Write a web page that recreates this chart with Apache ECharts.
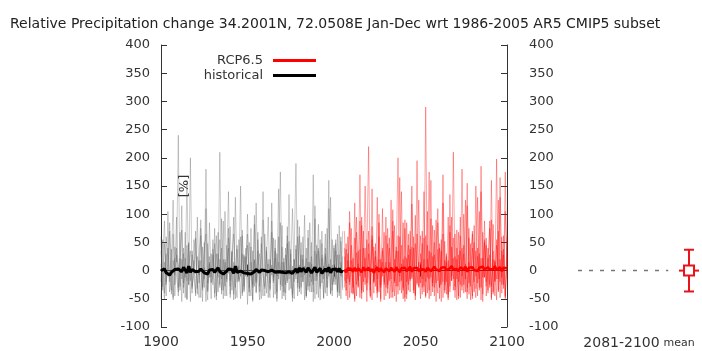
<!DOCTYPE html>
<html>
<head>
<meta charset="utf-8">
<script src="https://cdn.jsdelivr.net/npm/echarts@6/dist/echarts.min.js"></script>
<style>
  html, body { margin: 0; padding: 0; background: #fff; }
  #chart { width: 702px; height: 351px; }
</style>
</head>
<body>
<div id="chart"></div>
<script>
// historical runs, 1900-2005
const histStart = 1900
const hist1 = [12,-35,48,-20,5,70,-42,18,-8,95, -30,22,-55,40,-12,160,-25,8,-40,55, 30,-18,-48,75,2,-30,110,-22,15,-50, 38,-5,62,-38,20,-15,88,-45,10,140, -28,33,-52,5,45,-20,-8,72,-35,25, -60,50,12,-25,98,-40,8,30,-15,-45, 65,-10,20,-32,120,-18,40,-55,15,-5, 80,-38,28,-22,52,-12,-48,35,190,-30, 10,-42,60,-8,22,-35,85,-20,5,-50, 45,18,-28,70,-15,30,-45,12,130,-25, -5,48,-38,20,60,-30]
const hist2 = [-20,55,-40,30,-10,85,-5,-48,42,15, 240,-35,20,-22,68,-50,10,35,-28,-8, 58,-42,25,90,-30,5,-55,48,-12,30, -25,75,-45,12,55,-35,-10,105,-20,40, -48,20,65,-30,8,-15,150,-40,28,-5, 45,-38,15,-52,82,-18,35,-28,60,-10, -45,25,95,-35,10,-22,55,-50,30,175, -28,15,-40,62,-8,38,-55,20,-15,90, -32,50,-20,8,-45,72,-12,25,-38,115, -18,40,-52,28,-5,65,-30,12,-42,55, -20,35,-48,80,-10,25]
const hist3 = [35,-15,-50,60,22,-38,10,125,-25,40, -45,15,72,-30,5,-52,48,-18,28,-8, -40,95,-22,18,-55,40,65,-35,12,-20, 55,-48,30,-12,210,-42,20,-28,45,-5, 78,-35,15,-50,38,-18,60,-45,25,-10, 100,-30,42,-55,18,-22,68,-38,8,140, -28,35,-48,20,-8,58,-42,30,-15,85, -50,22,-25,48,-35,10,110,-20,38,-45, 62,-12,28,-52,40,-28,15,-38,170,-18, 30,-48,55,-22,8,-40,75,-10,20,-35, 45,-25,65,-45,15,-12]
const hist4 = [-50,20,88,-25,40,-12,-35,65,-45,28, 10,-28,115,-40,22,-18,50,-55,35,-5, 70,-32,18,-48,42,-15,180,-38,25,-22, -10,48,-52,30,-25,92,-35,15,-45,58, -18,35,-42,130,-20,8,-50,62,-28,40, -12,-45,75,-30,20,-38,55,-15,-50,90, 25,-40,12,-22,68,-48,35,-10,145,-35, 42,-25,-52,78,-15,30,-42,20,-8,60, -38,28,-20,98,-45,15,-28,50,-55,35, -10,82,-32,22,-48,40,-15,160,-40,10, -25,55,-35,28,-50,70]
const hist5 = [60,-28,15,-45,105,-20,38,-52,22,-10, -38,68,-15,30,-48,45,-25,200,-32,18, -45,25,-8,62,-35,50,-20,-52,85,-12, 28,-40,-18,68,-30,40,-50,20,-15,75, -42,12,95,-25,-48,55,-10,30,-38,18, 65,-20,-45,35,-28,120,-15,-52,48,-5, -32,42,-20,-48,88,-12,22,-38,60,-25, 15,-45,40,-18,135,-32,8,-50,45,-22, 78,-30,20,-15,-48,58,-38,12,-25,92, -42,35,-10,48,-50,25,-30,110,-20,-45, 40,-15,28,-40,52,-35]
const histMean = [0,-2,3,-4,-6,-8,-3,-5,2,4, 3,5,-2,6,1,-4,8,-3,2,-1, -2,-5,-1,3,1,-4,-3,-6,1,-2, 2,-3,-1,5,-2,-4,-6,-3,-1,3, 5,2,-5,8,-3,-6,-1,2,-4,-2, -5,-3,-6,-4,-2,2,-1,-3,1,3, 0,2,-2,-4,1,-1,-3,-5,-2,0, -3,-1,-4,-6,-2,-3,-5,-2,3,-4, 5,-2,4,7,-3,5,2,-4,-6,6, -3,-2,4,-5,-8,3,-2,6,-4,2, -1,3,-2,4,-3,0]

// RCP6.5 runs, 2006-2100
const rcpStart = 2006
const rcp1 = [25,-35,60,-20, 45,-40,15,95,-28,38,-50,70,-12,30, 220,-35,55,-20,10,-48,85,-25,40,-8, -45,75,-18,125,-38,20,-55,62,-10,45, -30,90,-42,28,-15,150,-35,48,-22,15, -50,70,-28,290,-40,35,-12,80,-45,25, 110,-30,55,-48,18,-20,95,-38,42,-15, 65,-52,28,-25,180,-40,12,-30,75,-18, -45,50,-10,130,-35,22,-55,88,-20,40, -30,160,-42,18,-15,70,-48,35,-25,105, 10]
const rcp2 = [-30,48,-15,85, -40,22,-55,68,-18,170,-35,40,-25,55, -12,-48,78,-22,35,-40,100,-30,15,-52, 62,-25,40,-15,88,-45,28,200,-35,12, -50,75,-20,45,-38,118,-10,-42,65,-28, 30,-15,140,-45,20,-35,92,-22,50,-55, 38,-30,-12,170,-40,25,-48,80,-18,58, -35,20,-50,95,-28,45,-15,155,-42,30, 65,-22,-48,40,-30,185,-12,50,-45,22, -25,90,-38,15,-52,125,-20,60,-32,175, -15]
const rcp3 = [70,-22,30,-48, 18,-30,120,-45,35,-10,80,-38,22,-55, 48,-25,145,-40,25,-15,60,-50,35,-20, 95,-32,15,-48,70,-18,42,-28,165,-40, 20,-55,85,-25,38,-12,60,-45,195,-30, 15,-42,58,-20,105,-50,32,-28,72,-12, -40,48,-25,120,-35,15,-52,68,-18,210, -28,40,-45,62,-10,30,-38,115,-22,48, -50,80,-32,25,-15,140,-42,55,-28,18, 75,-48,35,-20,198,-38,20,-12,62,-45, 30]
const rcp4 = [-18,38,-52,105, 28,-42,58,-25,12,-48,95,-20,40,-35, 70,-15,-52,42,-28,130,-38,20,-10,68, -30,48,-50,25,108,-22,35,-42,60,-18, 85,-48,22,-35,70,-15,40,-52,30,125, -22,48,-38,62,-12,175,-45,25,-30,90, -18,40,-55,65,-25,30,-42,135,-10,22, -48,72,-20,35,-35,100,-15,-50,58,-28, 40,-38,150,-22,30,-52,68,-12,45,-35, 88,-28,20,-45,55,-15,130,-40,28,-50, 60]
const rcp5 = [40,-45,18,-25, 75,-15,-50,32,-30,88,-40,15,150,-22, 30,-45,62,-18,48,-35,20,-55,110,-25, 15,-40,58,-12,-48,80,-28,35,-20,140, -35,25,-50,65,-18,42,-40,98,-25,15, 62,-30,20,-48,45,-15,160,-38,28,-22, 85,-50,35,-20,52,-42,18,-28,95,-35, 25,-15,68,-48,40,-25,125,-38,15,-52, 70,-20,35,-45,105,-30,22,-12,58,-40, 28,-52,82,-18,45,-35,165,-25,38,-48, 20]
const rcpMean = [2,-3,4,1, 3,-2,5,-1,4,2,-3,6,0,3, 5,-1,3,-4,2,6,-2,4,1,-3, 4,2,-1,5,3,-2,6,1,-3,4, 2,5,-1,3,7,-2,4,1,5,-1, 3,6,2,-2,5,4,-1,3,7,2, 4,-1,5,3,6,1,-2,4,8,2, 5,3,-1,6,4,2,7,-2,5,3, 6,1,4,-1,5,3,7,2,4,6, 2,5,3,8,1,4,6,-1,5,3, 4]

// 2081-2100 mean panel
const periodMean = 0
const periodLow = -37
const periodHigh = 37
const yTicks = [-100, 400, 50]   // min, max, step
const xTicks = [1900, 2100, 50]

const toPairs = (arr, start) => arr.map((v, i) => [start + i, v])

const chart = echarts.init(document.getElementById('chart'))
const font = 'DejaVu Sans, sans-serif'
const frame = { show: true, lineStyle: { color: '#333', width: 1 } }
const tick = { show: true, inside: true, length: 6, lineStyle: { color: '#333' } }
const label = { color: '#333', fontSize: 13, fontFamily: font }

const series = []
const histRuns = [hist1, hist2, hist3, hist4, hist5]
histRuns.forEach((run, i) => {
  series.push({
    name: 'hist-' + (i + 1),
    type: 'line',
    data: toPairs(run, histStart),
    symbol: 'none',
    silent: true,
    lineStyle: { color: '#555', width: 1, opacity: 0.3 }
  })
})
const rcpRuns = [rcp1, rcp2, rcp3, rcp4, rcp5]
rcpRuns.forEach((run, i) => {
  series.push({
    name: 'rcp-' + (i + 1),
    type: 'line',
    data: toPairs(run, rcpStart),
    symbol: 'none',
    silent: true,
    lineStyle: { color: '#ff0000', width: 1, opacity: 0.35 }
  })
})
series.push({
  name: 'historical',
  type: 'line',
  data: toPairs(histMean, histStart),
  symbol: 'none',
  itemStyle: { color: '#000' },
  lineStyle: { color: '#000', width: 3 },
  z: 5
})
series.push({
  name: 'RCP6.5',
  type: 'line',
  data: toPairs(rcpMean, rcpStart),
  symbol: 'none',
  itemStyle: { color: '#ff0000' },
  lineStyle: { color: '#ff0000', width: 2.5 },
  z: 5
})
// dashed zero line leading to the period mean
series.push({
  type: 'line',
  xAxisIndex: 2,
  yAxisIndex: 2,
  data: [[0, 0], [0.74, 0]],
  symbol: 'none',
  silent: true,
  lineStyle: { color: '#777', width: 1.5, type: [4, 7] }
})
series.push({
  type: 'custom',
  xAxisIndex: 2,
  yAxisIndex: 2,
  data: [[0.91, periodMean, periodLow, periodHigh]],
  renderItem: (params, api) => {
    const x = api.value(0)
    const c = api.coord([x, api.value(1)])
    const lo = api.coord([x, api.value(2)])
    const hi = api.coord([x, api.value(3)])
    const st = { stroke: '#e8141a', lineWidth: 2, fill: null }
    return {
      type: 'group',
      children: [
        { type: 'line', shape: { x1: c[0], y1: hi[1], x2: c[0], y2: c[1] - 5 }, style: st },
        { type: 'line', shape: { x1: c[0], y1: c[1] + 5, x2: c[0], y2: lo[1] }, style: st },
        { type: 'line', shape: { x1: c[0] - 5, y1: hi[1], x2: c[0] + 5, y2: hi[1] }, style: st },
        { type: 'line', shape: { x1: c[0] - 5, y1: lo[1], x2: c[0] + 5, y2: lo[1] }, style: st },
        { type: 'line', shape: { x1: c[0] - 10, y1: c[1], x2: c[0] - 5, y2: c[1] }, style: st },
        { type: 'line', shape: { x1: c[0] + 5, y1: c[1], x2: c[0] + 10, y2: c[1] }, style: st },
        { type: 'rect', shape: { x: c[0] - 5, y: c[1] - 5, width: 10, height: 10 }, style: st }
      ]
    }
  }
})

const legendBase = {
  orient: 'vertical',
  right: 386,
  align: 'right',
  padding: 0,
  itemWidth: 43,
  itemHeight: 3,
  icon: 'rect',
  textStyle: { fontSize: 13, color: '#333', fontFamily: font, padding: [0, 5, 0, 0] }
}

chart.setOption({
  animation: false,
  backgroundColor: '#fff',
  textStyle: { fontFamily: font },
  title: {
    text: 'Relative Precipitation change 34.2001N, 72.0508E Jan-Dec wrt 1986-2005 AR5 CMIP5 subset',
    left: 5,
    top: 12,
    textStyle: { fontSize: 14, fontWeight: 'normal', color: '#222', fontFamily: font }
  },
  legend: [
    Object.assign({}, legendBase, { top: 54, data: ['RCP6.5'] }),
    Object.assign({}, legendBase, { top: 69, data: ['historical'] })
  ],
  grid: [
    { left: 161, right: 195, top: 45, bottom: 24, outerBoundsMode: 'none' },
    { left: 578, right: 2, top: 45, bottom: 24, outerBoundsMode: 'none' }
  ],
  xAxis: [
    {
      type: 'value', gridIndex: 0, position: 'bottom',
      min: xTicks[0], max: xTicks[1], interval: xTicks[2],
      axisLine: frame, axisTick: tick, splitLine: { show: false },
      axisLabel: Object.assign({}, label, { formatter: v => String(v), margin: 8, fontSize: 14 })
    },
    {
      type: 'value', gridIndex: 0, position: 'top',
      min: xTicks[0], max: xTicks[1], interval: xTicks[2],
      axisLine: frame, axisTick: tick, splitLine: { show: false },
      axisLabel: { show: false }
    },
    {
      type: 'value', gridIndex: 1, min: 0, max: 1,
      axisLine: { show: false }, axisTick: { show: false }, splitLine: { show: false },
      axisLabel: { show: false },
      name: '{a|2081-2100} {b|mean}', nameLocation: 'middle', nameGap: 9,
      nameTextStyle: {
        verticalAlign: 'top',
        rich: {
          a: { fontSize: 14, color: '#333', fontFamily: font },
          b: { fontSize: 11, color: '#333', fontFamily: font }
        }
      }
    }
  ],
  yAxis: [
    {
      type: 'value', gridIndex: 0, position: 'left',
      min: yTicks[0], max: yTicks[1], interval: yTicks[2],
      axisLine: frame, axisTick: tick, splitLine: { show: false },
      axisLabel: Object.assign({}, label, { margin: 11 }),
      name: '[%]', nameLocation: 'middle', nameRotate: 90, nameGap: -30,
      nameTextStyle: label
    },
    {
      type: 'value', gridIndex: 0, position: 'right',
      min: yTicks[0], max: yTicks[1], interval: yTicks[2],
      axisLine: frame, axisTick: tick, splitLine: { show: false },
      axisLabel: Object.assign({}, label, { margin: 22 })
    },
    {
      type: 'value', gridIndex: 1, min: yTicks[0], max: yTicks[1],
      show: false
    }
  ],
  series: series
})
</script>
</body>
</html>
